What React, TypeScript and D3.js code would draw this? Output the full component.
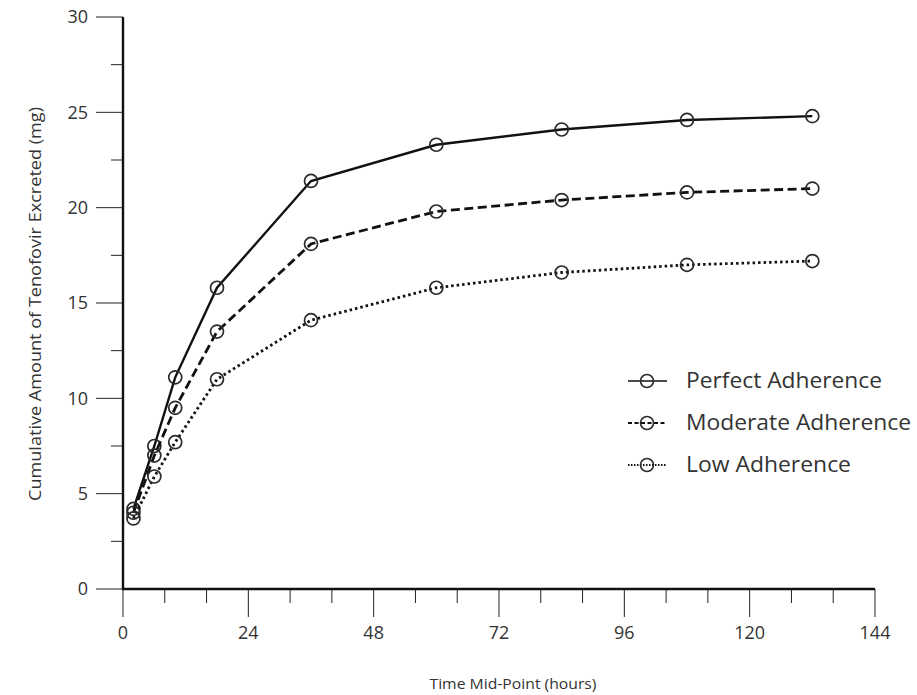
import React, { useEffect, useRef } from 'react';
import * as d3 from 'd3';

const hours = [2, 6, 10, 18, 36, 60, 84, 108, 132];
const perfect = [4.2, 7.5, 11.1, 15.8, 21.4, 23.3, 24.1, 24.6, 24.8];
const moderate = [4.0, 7.0, 9.5, 13.5, 18.1, 19.8, 20.4, 20.8, 21.0];
const low = [3.7, 5.9, 7.7, 11.0, 14.1, 15.8, 16.6, 17.0, 17.2];
const seriesNames = ['Perfect Adherence', 'Moderate Adherence', 'Low Adherence'];
const xTicks = [0, 24, 48, 72, 96, 120, 144];
const yTicks = [0, 5, 10, 15, 20, 25, 30];

const W = 917;
const H = 695;
const FONT = '"Open Sans", "Noto Sans", sans-serif';

const App = () => {
    const svgRef = useRef<SVGSVGElement>(null);

    useEffect(() => {
        const svg = d3.select(svgRef.current);
        svg.selectAll('*').remove();

        const x = d3.scaleLinear().domain([0, 144]).range([123, 875]);
        const y = d3.scaleLinear().domain([0, 30]).range([589, 17]);

        const styles = [
            { dash: null, width: 2.4 },
            { dash: '9,4.5', width: 2.8 },
            { dash: '2.5,3', width: 2.8 },
        ];
        const allSeries = [perfect, moderate, low];

        // minor ticks
        const yMinor = d3.range(2.5, 30, 5);
        svg.append('g').selectAll('line').data(yMinor).enter().append('line')
            .attr('x1', 111).attr('x2', 123)
            .attr('y1', d => y(d)).attr('y2', d => y(d))
            .attr('stroke', '#222').attr('stroke-width', 1);
        svg.append('g').selectAll('line').data(yTicks).enter().append('line')
            .attr('x1', 96).attr('x2', 123)
            .attr('y1', d => y(d)).attr('y2', d => y(d))
            .attr('stroke', '#222').attr('stroke-width', 1);

        const xMinor = d3.range(8, 144, 8).filter(d => d % 24 !== 0);
        svg.append('g').selectAll('line').data(xMinor).enter().append('line')
            .attr('x1', d => x(d)).attr('x2', d => x(d))
            .attr('y1', 589).attr('y2', 603)
            .attr('stroke', '#222').attr('stroke-width', 1);
        svg.append('g').selectAll('line').data(xTicks).enter().append('line')
            .attr('x1', d => x(d)).attr('x2', d => x(d))
            .attr('y1', 589).attr('y2', 617)
            .attr('stroke', '#222').attr('stroke-width', 1);

        // axis lines
        svg.append('line')
            .attr('x1', 123).attr('x2', 123).attr('y1', y(30)).attr('y2', 590)
            .attr('stroke', '#111').attr('stroke-width', 2.4);
        svg.append('line')
            .attr('x1', 122).attr('x2', x(144)).attr('y1', 589).attr('y2', 589)
            .attr('stroke', '#111').attr('stroke-width', 2.4);

        // tick labels
        svg.append('g').selectAll('text').data(yTicks).enter().append('text')
            .attr('x', 88).attr('y', d => y(d))
            .attr('dy', '0.35em')
            .attr('text-anchor', 'end')
            .style('font-family', FONT).style('font-size', '18px').style('fill', '#333')
            .text(d => d);
        svg.append('g').selectAll('text').data(xTicks).enter().append('text')
            .attr('x', d => x(d)).attr('y', 639)
            .attr('text-anchor', 'middle')
            .style('font-family', FONT).style('font-size', '18px').style('fill', '#333')
            .text(d => d);

        // axis titles
        svg.append('text')
            .attr('transform', `translate(41,304) rotate(-90)`)
            .attr('text-anchor', 'middle')
            .attr('textLength', 394)
            .attr('lengthAdjust', 'spacingAndGlyphs')
            .style('font-family', FONT).style('font-size', '16px').style('fill', '#333')
            .text('Cumulative Amount of Tenofovir Excreted (mg)');
        svg.append('text')
            .attr('x', 513).attr('y', 689)
            .attr('text-anchor', 'middle')
            .attr('textLength', 167)
            .attr('lengthAdjust', 'spacingAndGlyphs')
            .style('font-family', FONT).style('font-size', '15px').style('fill', '#333')
            .text('Time Mid-Point (hours)');

        // lines and markers
        const line = d3.line<number>()
            .x((d, i) => x(hours[i]))
            .y(d => y(d));

        allSeries.forEach((vals, k) => {
            const st = styles[k];
            svg.append('path')
                .datum(vals)
                .attr('d', line)
                .attr('fill', 'none')
                .attr('stroke', '#111')
                .attr('stroke-width', st.width)
                .attr('stroke-dasharray', st.dash);
            svg.append('g').selectAll('circle').data(vals).enter().append('circle')
                .attr('cx', (d, i) => x(hours[i]))
                .attr('cy', d => y(d))
                .attr('r', 6.5)
                .attr('fill', 'none')
                .attr('stroke', '#2a2a2a')
                .attr('stroke-width', 1.7);
        });

        // legend
        const legendY = [381, 423, 465];
        const legendLen = [196, 225, 165];
        seriesNames.forEach((name, k) => {
            const g = svg.append('g').attr('transform', `translate(0,${legendY[k]})`);
            g.append('line')
                .attr('x1', 628).attr('x2', 667).attr('y1', 0).attr('y2', 0)
                .attr('stroke', '#111')
                .attr('stroke-width', k === 0 ? 1.5 : 1.8)
                .attr('stroke-dasharray', k === 0 ? null : (k === 1 ? '4,2.5' : '1.5,1.5'));
            g.append('circle')
                .attr('cx', 647).attr('cy', 0).attr('r', 6.5)
                .attr('fill', 'none').attr('stroke', '#2a2a2a').attr('stroke-width', 1.6);
            g.append('text')
                .attr('x', 686).attr('y', 0).attr('dy', '0.35em')
                .attr('textLength', legendLen[k])
                .attr('lengthAdjust', 'spacingAndGlyphs')
                .style('font-family', FONT).style('font-size', '21px').style('fill', '#333')
                .text(name);
        });
    }, []);

    return (
        <svg ref={svgRef} width={W} height={H}
            style={{ position: 'absolute', left: 0, top: 0, background: '#fff' }}></svg>
    );
};

export default App;
